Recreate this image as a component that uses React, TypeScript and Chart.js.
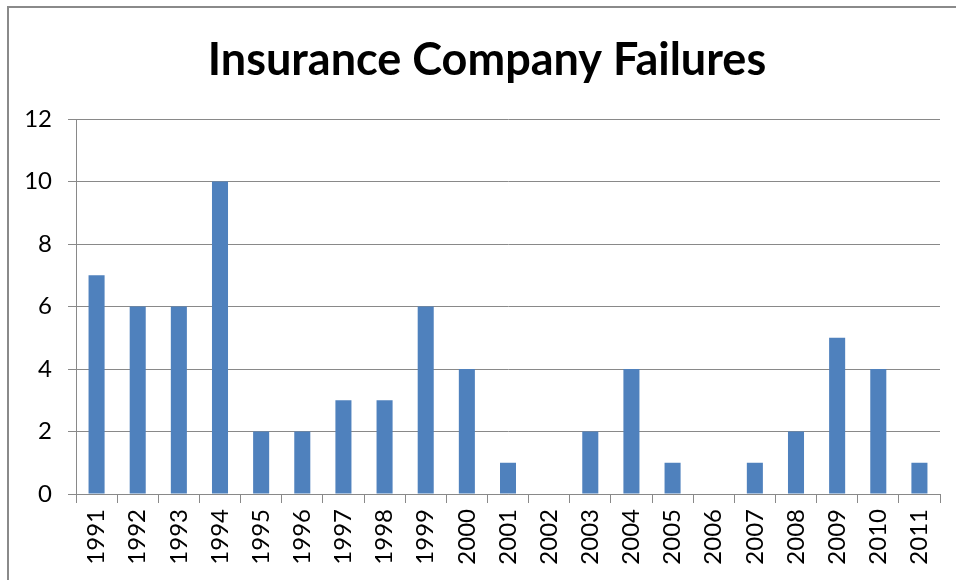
import React, { useEffect, useRef } from "react";
import { Chart, registerables } from "chart.js";

Chart.register(...registerables);

const years = ["1991","1992","1993","1994","1995","1996","1997","1998","1999","2000","2001","2002","2003","2004","2005","2006","2007","2008","2009","2010","2011"];
const failures = [7, 6, 6, 10, 2, 2, 3, 3, 6, 4, 1, 0, 2, 4, 1, 0, 1, 2, 5, 4, 1];
const yTicks = [0, 2, 4, 6, 8, 10, 12];
const title = "Insurance Company Failures";

const titlePlugin = {
  id: "customTitle",
  afterDraw(chart: any) {
    const ctx = chart.ctx;
    ctx.save();
    ctx.fillStyle = "#000";
    ctx.font = "bold 45px Lato";
    ctx.textAlign = "center";
    ctx.textBaseline = "middle";
    ctx.fillText(title, 487, 60);
    ctx.restore();
  },
};

export default function App() {
  const ref = useRef<HTMLCanvasElement | null>(null);
  useEffect(() => {
    if (!ref.current) return;
    const chart = new Chart(ref.current, {
      type: "bar",
      data: {
        labels: years,
        datasets: [{
          data: failures,
          backgroundColor: "#4F81BD",
          barPercentage: 0.39,
          categoryPercentage: 1,
        }],
      },
      plugins: [titlePlugin],
      options: {
        responsive: false,
        animation: false,
        layout: { padding: { left: 0, right: 16, top: 119, bottom: 0 } },
        plugins: {
          legend: { display: false },
          tooltip: { enabled: false },
          title: { display: false },
        },
        scales: {
          x: {
            grid: { drawOnChartArea: false, drawTicks: true, tickLength: 9, color: "#898989", offset: true },
            border: { color: "#898989", width: 1 },
            ticks: { color: "#000", maxRotation: 90, minRotation: 90, autoSkip: false, padding: 6, font: { family: "Lato", size: 24 } },
            afterFit: (s: any) => { s.height = 86; },
          },
          y: {
            min: 0,
            max: 12,
            afterBuildTicks: (s: any) => { s.ticks = yTicks.map((v) => ({ value: v })); },
            grid: { color: "#898989", tickLength: 8 },
            border: { color: "#898989", width: 1 },
            ticks: { color: "#000", padding: 16, font: { family: "Lato", size: 24 } },
            afterFit: (s: any) => { s.width = 76; },
          },
        },
      },
    });
    return () => chart.destroy();
  }, []);
  return (
    <div style={{ position: "absolute", left: 0, top: 0, width: 956, height: 580, background: "#fff" }}>
      <canvas ref={ref} width={956} height={580} style={{ position: "absolute", left: 0, top: 0 }} />
      <div style={{ position: "absolute", left: 7, top: 6, width: 960, height: 580, borderTop: "2px solid #8a8a8a", borderLeft: "2px solid #8a8a8a", pointerEvents: "none" }} />
    </div>
  );
}
